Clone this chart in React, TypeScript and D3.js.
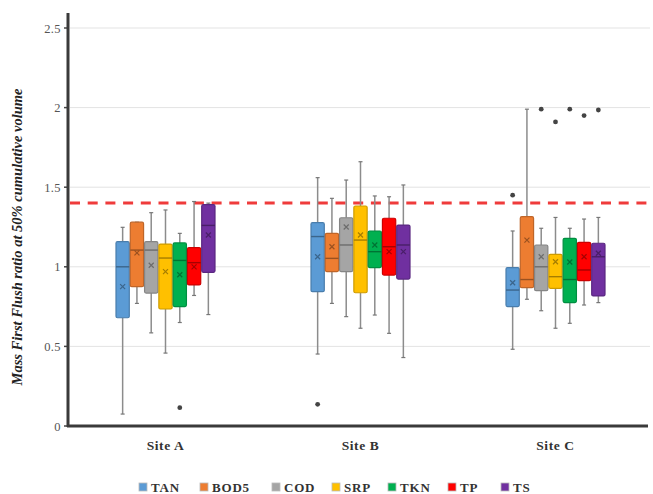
import React from "react";
import * as d3 from "d3";

const sites = ["Site A", "Site B", "Site C"];
const seriesNames = ["TAN", "BOD5", "COD", "SRP", "TKN", "TP", "TS"];
const seriesColors = ["#5b9bd5", "#ed7d31", "#a5a5a5", "#ffc000", "#00b050", "#ff0000", "#7030a0"];
const yTicks = [0, 0.5, 1, 1.5, 2, 2.5];
const yTickLabels = ["0", "0.5", "1", "1.5", "2", "2.5"];
const thresholdValue = 1.4;

// [site][series]
const whiskerLow = [
  [0.075, 0.77, 0.585, 0.458, 0.65, 0.82, 0.7],
  [0.452, 0.77, 0.687, 0.614, 0.697, 0.582, 0.43],
  [0.482, 0.796, 0.724, 0.614, 0.645, 0.76, 0.775],
];
const q1 = [
  [0.68, 0.875, 0.835, 0.735, 0.75, 0.886, 0.965],
  [0.844, 0.97, 0.97, 0.837, 0.995, 0.948, 0.923],
  [0.75, 0.869, 0.85, 0.865, 0.775, 0.913, 0.817],
];
const medians = [
  [1.0, 1.105, 1.105, 1.055, 1.04, 1.026, 1.26],
  [1.19, 1.053, 1.137, 1.168, 1.095, 1.126, 1.137],
  [0.854, 0.92, 1.0, 0.938, 0.92, 0.98, 1.063],
];
const means = [
  [0.875, 1.087, 1.01, 0.97, 0.95, 1.0, 1.2],
  [1.063, 1.126, 1.25, 1.2, 1.137, 1.095, 1.095],
  [0.9, 1.168, 1.063, 1.032, 1.03, 1.063, 1.085],
];
const q3 = [
  [1.158, 1.28, 1.158, 1.143, 1.15, 1.12, 1.39],
  [1.277, 1.21, 1.308, 1.382, 1.225, 1.305, 1.262],
  [0.995, 1.315, 1.137, 1.078, 1.179, 1.154, 1.148],
];
const whiskerHigh = [
  [1.248, 1.28, 1.34, 1.357, 1.21, 1.41, 1.4],
  [1.56, 1.43, 1.545, 1.66, 1.445, 1.44, 1.514],
  [1.225, 1.99, 1.242, 1.31, 1.242, 1.3, 1.31],
];
// [site, seriesIndex, value]
const outliers: [number, number, number][] = [
  [0, 4, 0.115],
  [1, 0, 0.136],
  [2, 0, 1.45],
  [2, 2, 1.99],
  [2, 3, 1.91],
  [2, 4, 1.99],
  [2, 5, 1.95],
  [2, 6, 1.985],
];

const W = 653;
const H = 494;
const left = 68;
const right = 653;
const top = 13;
const bottom = 426;
const font = "'Liberation Serif', 'Times New Roman', serif";

export default function App() {
  const y = d3.scaleLinear().domain([0, 2.5]).range([bottom, bottom - 2.5 * 159.2]);
  const x = d3.scaleBand<string>().domain(sites).range([left, right]);
  const inner = d3
    .scaleBand<string>()
    .domain(seriesNames)
    .range([-49.5, 49.5])
    .paddingInner(0.07);
  const bw = inner.bandwidth();

  const boxes: React.ReactNode[] = [];
  sites.forEach((site, si) => {
    seriesNames.forEach((s, k) => {
      const cx = (x(site) as number) + x.bandwidth() / 2 + (inner(s) as number) + bw / 2;
      const col = seriesColors[k];
      const dark = d3.color(col)!.darker(1.2).formatHex();
      const x0 = cx - bw / 2;
      const mx = cx;
      const my = y(means[si][k]);
      boxes.push(
        <g key={`${si}-${k}`}>
          <line x1={cx} x2={cx} y1={y(whiskerHigh[si][k])} y2={y(q3[si][k])} stroke="#8c8c8c" strokeWidth={1.5} />
          <line x1={cx} x2={cx} y1={y(q1[si][k])} y2={y(whiskerLow[si][k])} stroke="#8c8c8c" strokeWidth={1.5} />
          <line x1={cx - 2} x2={cx + 2} y1={y(whiskerHigh[si][k])} y2={y(whiskerHigh[si][k])} stroke="#777" strokeWidth={1.2} />
          <line x1={cx - 2} x2={cx + 2} y1={y(whiskerLow[si][k])} y2={y(whiskerLow[si][k])} stroke="#777" strokeWidth={1.2} />
          <rect
            x={x0}
            y={y(q3[si][k])}
            width={bw}
            height={y(q1[si][k]) - y(q3[si][k])}
            fill={col}
            stroke={d3.color(col)!.darker(0.6).formatHex()}
            strokeWidth={1.2}
            rx={1.5}
          />
          <line x1={x0} x2={x0 + bw} y1={y(medians[si][k])} y2={y(medians[si][k])} stroke={dark} strokeWidth={1.4} />
          <path
            d={`M${mx - 2.5},${my - 2.5}L${mx + 2.5},${my + 2.5}M${mx - 2.5},${my + 2.5}L${mx + 2.5},${my - 2.5}`}
            stroke={dark}
            strokeWidth={1.2}
          />
        </g>
      );
    });
  });

  const legendX = [139, 200, 272, 332, 388, 448, 501];

  return (
    <svg width={W} height={H} style={{ position: "fixed", left: 0, top: 0, background: "#fff" }}>
      <rect width={W} height={H} fill="#fff" />
      {yTicks.map((t, i) => (
        <g key={t}>
          {t > 0 && <line x1={left + 2} x2={650} y1={y(t)} y2={y(t)} stroke="#e3e3e3" strokeWidth={1} />}
          <line x1={left - 4} x2={left} y1={y(t)} y2={y(t)} stroke="#444" strokeWidth={1.5} />
          <text x={left - 7} y={y(t) + 4.5} textAnchor="end" fontFamily={font} fontSize={12.5} fill="#555" letterSpacing={0.4}>
            {yTickLabels[i]}
          </text>
        </g>
      ))}
      <line
        x1={left + 2}
        x2={648}
        y1={y(thresholdValue)}
        y2={y(thresholdValue)}
        stroke="#ef3b3b"
        strokeWidth={3}
        strokeDasharray="10,7.7"
      />
      {boxes}
      {outliers.map(([si, k, v], i) => {
        const cx = (x(sites[si]) as number) + x.bandwidth() / 2 + (inner(seriesNames[k]) as number) + bw / 2;
        return <circle key={i} cx={cx} cy={y(v)} r={2.4} fill="#444" />;
      })}
      <line x1={left} x2={left} y1={top} y2={bottom + 1} stroke="#3a3a3a" strokeWidth={3} />
      <line x1={left - 1} x2={648} y1={bottom} y2={bottom} stroke="#3a3a3a" strokeWidth={3} />
      {sites.map((s) => (
        <text
          key={s}
          x={(x(s) as number) + x.bandwidth() / 2}
          y={450}
          textAnchor="middle"
          fontFamily={font}
          fontWeight="bold"
          fontSize={13.5}
          letterSpacing={0.6}
          fill="#333"
        >
          {s}
        </text>
      ))}
      <text
        transform={`translate(22,237) rotate(-90)`}
        textAnchor="middle"
        fontFamily={font}
        fontStyle="italic"
        fontWeight="bold"
        fontSize={14.5}
        fill="#222"
      >
        Mass First Flush ratio at 50% cumulative volume
      </text>
      {seriesNames.map((s, k) => (
        <g key={s} transform={`translate(${legendX[k]},483)`}>
          <rect x={0} y={0} width={8} height={8} fill={seriesColors[k]} stroke="#bbb" strokeWidth={0.8} />
          <text x={12} y={8.5} fontFamily={font} fontWeight="bold" fontSize={13} letterSpacing={0.8} fill="#333">
            {s}
          </text>
        </g>
      ))}
    </svg>
  );
}
